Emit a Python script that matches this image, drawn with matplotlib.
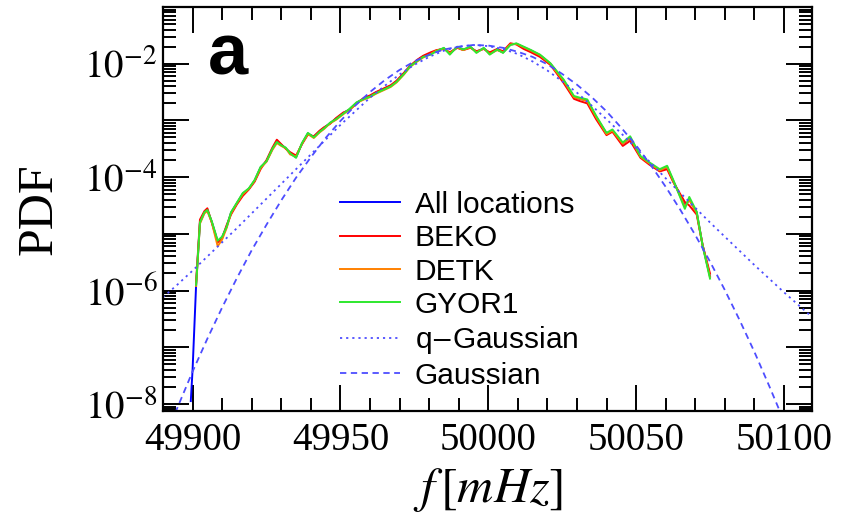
import numpy as np
import matplotlib
matplotlib.use('Agg')
import matplotlib.pyplot as plt
from matplotlib.ticker import LogLocator, MultipleLocator, FuncFormatter, NullFormatter

# frequency grid of the measured PDFs [mHz]
freq = [49899.4, 49900.0, 49901.2, 49902.5, 49904.0, 49905.0, 49906.5, 49908.5, 49910.0, 49911.5,
        49913.0, 49915.0, 49917.0, 49919.0, 49921.0, 49923.0, 49925.0, 49927.0, 49928.5, 49930.0,
        49931.5, 49933.0, 49935.0, 49937.0, 49939.0, 49941.0, 49943.0, 49944.5, 49946.5, 49948.5,
        49951.0, 49953.0, 49955.5, 49958.0, 49960.0, 49962.0, 49964.5, 49967.0, 49969.0, 49971.5,
        49973.5, 49976.0, 49978.0, 49980.5, 49982.5, 49985.0, 49987.0, 49989.5, 49991.5, 49994.0,
        49996.0, 49998.5, 50000.5, 50003.0, 50005.0, 50007.5, 50009.5, 50012.0, 50014.5, 50017.5,
        50021.0, 50023.0, 50025.5, 50029.0, 50031.0, 50033.5, 50036.5, 50040.0, 50042.0, 50045.5,
        50048.0, 50051.5, 50054.5, 50058.0, 50060.5, 50062.5, 50066.5, 50068.0, 50070.5, 50072.5,
        50075.0]

# log10(PDF)
log_all = [-7.95, -7.40, -5.90, -4.80, -4.62, -4.58, -4.79, -5.14, -5.06, -4.88,
           -4.63, -4.46, -4.29, -4.21, -4.06, -3.83, -3.72, -3.50, -3.37, -3.43,
           -3.49, -3.58, -3.65, -3.41, -3.23, -3.29, -3.19, -3.13, -3.05, -2.97,
           -2.87, -2.81, -2.69, -2.61, -2.57, -2.51, -2.45, -2.39, -2.31, -2.17,
           -2.05, -1.94, -1.87, -1.82, -1.77, -1.73, -1.82, -1.71, -1.75, -1.71,
           -1.79, -1.73, -1.82, -1.75, -1.80, -1.66, -1.65, -1.71, -1.77, -1.85,
           -2.00, -2.13, -2.30, -2.59, -2.62, -2.65, -2.94, -3.23, -3.18, -3.41,
           -3.31, -3.64, -3.76, -3.88, -3.82, -4.06, -4.50, -4.40, -4.62, -5.20,
           -5.75]
log_beko = [np.nan, np.nan, -5.85, -4.75, -4.60, -4.55, -4.80, -5.15, -5.08, -4.85,
            -4.66, -4.48, -4.33, -4.22, -4.08, -3.86, -3.70, -3.48, -3.34, -3.42,
            -3.50, -3.56, -3.62, -3.42, -3.25, -3.28, -3.18, -3.12, -3.06, -2.96,
            -2.86, -2.82, -2.70, -2.60, -2.56, -2.50, -2.44, -2.38, -2.30, -2.16,
            -2.04, -1.93, -1.86, -1.80, -1.76, -1.74, -1.80, -1.72, -1.76, -1.72,
            -1.78, -1.74, -1.80, -1.74, -1.78, -1.64, -1.66, -1.74, -1.80, -1.88,
            -2.02, -2.16, -2.34, -2.62, -2.66, -2.70, -2.98, -3.26, -3.20, -3.45,
            -3.36, -3.66, -3.78, -3.90, -3.86, -4.08, -4.44, -4.50, -4.66, -5.20,
            -5.70]
log_detk = [np.nan, np.nan, -5.92, -4.82, -4.64, -4.60, -4.80, -5.22, -5.10, -4.90,
            -4.64, -4.46, -4.30, -4.21, -4.06, -3.84, -3.73, -3.52, -3.40, -3.45,
            -3.49, -3.60, -3.64, -3.41, -3.24, -3.31, -3.21, -3.15, -3.05, -2.99,
            -2.89, -2.81, -2.69, -2.63, -2.59, -2.53, -2.47, -2.41, -2.33, -2.19,
            -2.06, -1.96, -1.89, -1.83, -1.77, -1.73, -1.82, -1.71, -1.76, -1.71,
            -1.80, -1.73, -1.83, -1.76, -1.80, -1.66, -1.65, -1.71, -1.77, -1.85,
            -2.00, -2.14, -2.30, -2.59, -2.62, -2.66, -2.94, -3.24, -3.18, -3.41,
            -3.31, -3.64, -3.76, -3.88, -3.82, -4.06, -4.52, -4.40, -4.63, -5.20,
            -5.76]
log_gyor1 = [np.nan, np.nan, -5.90, -4.80, -4.62, -4.58, -4.78, -5.12, -5.05, -4.88,
             -4.62, -4.45, -4.28, -4.20, -4.05, -3.82, -3.72, -3.50, -3.38, -3.44,
             -3.48, -3.58, -3.66, -3.40, -3.22, -3.30, -3.20, -3.14, -3.04, -2.98,
             -2.88, -2.80, -2.68, -2.62, -2.58, -2.52, -2.46, -2.40, -2.32, -2.18,
             -2.05, -1.95, -1.88, -1.84, -1.78, -1.72, -1.84, -1.70, -1.75, -1.70,
             -1.81, -1.72, -1.84, -1.75, -1.81, -1.67, -1.64, -1.70, -1.76, -1.84,
             -1.99, -2.12, -2.28, -2.57, -2.60, -2.63, -2.92, -3.22, -3.16, -3.39,
             -3.28, -3.63, -3.74, -3.86, -3.80, -4.04, -4.56, -4.35, -4.61, -5.21,
             -5.79]

# fitted curves, log10(PDF)
fit_freq = [49890, 49895, 49900, 49905, 49910, 49915, 49920, 49925, 49930, 49935,
            49940, 49945, 49950, 49955, 49960, 49965, 49970, 49975, 49980, 49985,
            49990, 49995, 50000, 50005, 50010, 50015, 50020, 50025, 50030, 50035,
            50040, 50045, 50050, 50055, 50060, 50065, 50070, 50075, 50080, 50085,
            50090, 50095, 50100, 50105, 50110]
log_qgauss = [-6.12, -5.89, -5.65, -5.40, -5.15, -4.90, -4.64, -4.38, -4.12, -3.86,
              -3.60, -3.34, -3.08, -2.84, -2.60, -2.39, -2.19, -2.02, -1.88, -1.77,
              -1.70, -1.67, -1.69, -1.74, -1.83, -1.96, -2.12, -2.31, -2.51, -2.74,
              -2.98, -3.23, -3.49, -3.75, -4.02, -4.28, -4.54, -4.80, -5.05, -5.30,
              -5.55, -5.79, -6.03, -6.26, -6.49]
log_gauss = [-8.69, -8.05, -7.43, -6.85, -6.30, -5.78, -5.29, -4.84, -4.41, -4.01,
             -3.65, -3.31, -3.01, -2.74, -2.50, -2.29, -2.11, -1.96, -1.84, -1.75,
             -1.70, -1.67, -1.68, -1.72, -1.79, -1.88, -2.01, -2.18, -2.37, -2.59,
             -2.84, -3.13, -3.44, -3.79, -4.17, -4.58, -5.02, -5.49, -5.99, -6.52,
             -7.08, -7.68, -8.30, -8.96, -9.64]

labels = ['All locations', 'BEKO', 'DETK', 'GYOR1', 'q$-$Gaussian', 'Gaussian']
colors = ['#0000ff', '#ff0000', '#ff8000', '#2ee82e']

plt.rcParams['font.family'] = 'Liberation Serif'
plt.rcParams['mathtext.fontset'] = 'stix'


def even_decades(v, pos):
    e = int(round(np.log10(v)))
    if e % 2 == 0:
        return r'$10^{%d}$' % e
    return ''


fig = plt.figure(figsize=(8.55, 5.31), dpi=100)
ax = fig.add_axes([163 / 855, 1 - 411 / 531, 649 / 855, 404 / 531])

f = np.array(freq)
for logs, c, lab in zip([log_all, log_beko, log_detk, log_gyor1], colors, labels[:4]):
    ax.plot(f, 10 ** np.array(logs), color=c, lw=1.4, label=lab)

ff = np.array(fit_freq)
ax.plot(ff, 10 ** np.array(log_qgauss), color='#4d4dff', lw=1.3,
        linestyle=(0, (1.2, 2.2)), label=labels[4])
ax.plot(ff, 10 ** np.array(log_gauss), color='#4d4dff', lw=1.3,
        linestyle=(0, (3.5, 2.5)), label=labels[5])

ax.set_yscale('log')
ax.set_xlim(49890, 50109.5)
ax.set_ylim(7.5e-9, 0.1)

ax.xaxis.set_major_locator(MultipleLocator(50))
ax.xaxis.set_minor_locator(MultipleLocator(10))
ax.yaxis.set_major_locator(LogLocator(base=10, numticks=20))
ax.yaxis.set_minor_locator(LogLocator(base=10, subs=np.arange(2, 10), numticks=100))
ax.yaxis.set_major_formatter(FuncFormatter(even_decades))
ax.yaxis.set_minor_formatter(NullFormatter())

ax.tick_params(which='both', direction='in', top=True, right=True, width=1.4)
ax.tick_params(which='major', length=19, labelsize=28)
ax.tick_params(axis='x', which='major', pad=8)
ax.tick_params(axis='y', which='major', pad=4)
ax.tick_params(which='minor', length=9.5)
for s in ax.spines.values():
    s.set_linewidth(1.6)

ax.set_xlabel('$f\\,[mHz]$', fontsize=36)
ax.set_ylabel('PDF', fontsize=36)
ax.xaxis.set_label_coords(0.5, -0.135)
ax.yaxis.set_label_coords(-0.155, 0.5)

ax.text(0.069, 0.832, 'a', transform=ax.transAxes, fontsize=52, fontweight='bold',
        family='Liberation Sans', ha='left', va='baseline')

leg = ax.legend(loc='upper left', bbox_to_anchor=(0.273, 0.545), frameon=False,
                prop={'family': 'Liberation Sans', 'size': 21.5}, handlelength=2.0,
                handletextpad=0.5, labelspacing=0.18, borderpad=0, borderaxespad=0)

fig.savefig('out.png', dpi=100)
